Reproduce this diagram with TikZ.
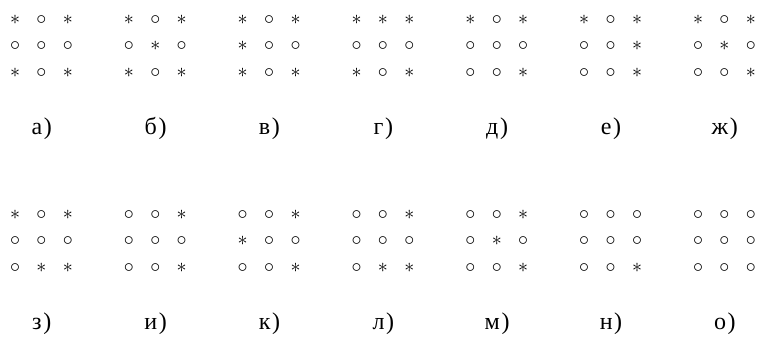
\documentclass[tikz,border=0pt]{standalone}
\usepackage{fontspec}
\newfontfamily\cyrfont{Liberation Serif}
\newcommand{\cellsym}[1]{\ifnum#1=1 $\ast$\else $\circ$\fi}
\tikzset{
  sym/.style={inner sep=0pt, anchor=base, font=\normalsize},
  lbl/.style={inner sep=0pt, anchor=base, font=\cyrfont\large},
}
\begin{document}
\begin{tikzpicture}
  \useasboundingbox (0,0) rectangle (13.37,-6.186);
  % 14 matrices, 7 per row; 1 = star, 0 = circle
  \foreach \lab/\pat [count=\k from 0] in {
      а/{1,0,1,0,0,0,1,0,1}, б/{1,0,1,0,1,0,1,0,1}, в/{1,0,1,1,0,0,1,0,1},
      г/{1,1,1,0,0,0,1,0,1}, д/{1,0,1,0,0,0,0,0,1}, е/{1,0,1,0,0,1,0,0,1},
      ж/{1,0,1,0,1,0,0,0,1}, з/{1,0,1,0,0,0,0,1,1}, и/{0,0,1,0,0,0,0,0,1},
      к/{0,0,1,1,0,0,0,0,1}, л/{0,0,1,0,0,0,0,1,1}, м/{0,0,1,0,1,0,0,0,1},
      н/{0,0,0,0,0,0,0,0,1}, о/{0,0,0,0,0,0,0,0,0}} {
    \pgfmathtruncatemacro\col{mod(\k,7)}
    \pgfmathtruncatemacro\blk{\k/7}
    \foreach \s [count=\n from 0] in \pat {
      \pgfmathtruncatemacro\i{\n/3}
      \pgfmathtruncatemacro\j{mod(\n,3)}
      \node[sym] (c\k-\n) at ({0.264+2.0*\col+0.464*\j},{-(0.422+3.426*\blk+0.466*\i)}) {\cellsym{\s}};
    }
    \node[lbl] (l\k) at ({0.264+2.0*\col+0.47},{-(2.37+3.426*\blk)}) {\lab\kern0.8pt)};
  }
\end{tikzpicture}
\end{document}
